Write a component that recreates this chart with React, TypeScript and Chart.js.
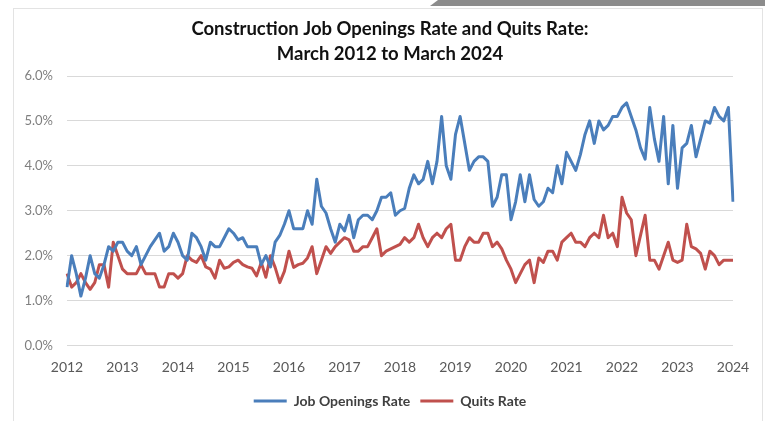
import React, { useEffect, useRef } from "react";
import { Chart, registerables } from "chart.js";

Chart.register(...registerables);

const titleLines = ["Construction Job Openings Rate and Quits Rate:", "March 2012 to March 2024"];
const startYear = 2012;
const startMonth = 3;
const yearTicks = ["2012", "2013", "2014", "2015", "2016", "2017", "2018", "2019", "2020", "2021", "2022", "2023", "2024"];

const jobOpeningsRate = [
  1.3, 2.0, 1.6, 1.1, 1.5, 2.0, 1.6, 1.5, 1.8, 2.2, 2.1, 2.3,
  2.3, 2.1, 2.0, 2.2, 1.8, 2.0, 2.2, 2.35, 2.5, 2.1, 2.2, 2.5,
  2.3, 2.0, 1.9, 2.5, 2.4, 2.2, 1.9, 2.3, 2.2, 2.2, 2.4, 2.6,
  2.5, 2.35, 2.4, 2.2, 2.2, 2.2, 1.8, 2.0, 1.75, 2.3, 2.45, 2.7,
  3.0, 2.6, 2.6, 2.6, 3.0, 2.7, 3.7, 3.1, 2.95, 2.6, 2.3, 2.7,
  2.55, 2.9, 2.4, 2.8, 2.9, 2.9, 2.8, 3.0, 3.3, 3.3, 3.4, 2.9,
  3.0, 3.05, 3.5, 3.8, 3.6, 3.7, 4.1, 3.6, 4.1, 5.1, 4.0, 3.7,
  4.7, 5.1, 4.5, 3.9, 4.1, 4.2, 4.2, 4.1, 3.1, 3.3, 3.8, 3.8,
  2.8, 3.2, 3.8, 3.2, 3.8, 3.25, 3.1, 3.2, 3.5, 3.4, 4.0, 3.6,
  4.3, 4.1, 3.9, 4.25, 4.7, 5.0, 4.5, 5.0, 4.8, 4.9, 5.1, 5.1,
  5.3, 5.4, 5.1, 4.8, 4.4, 4.15, 5.3, 4.6, 4.1, 5.1, 3.6, 4.9,
  3.5, 4.4, 4.5, 4.9, 4.2, 4.6, 5.0, 4.95, 5.3, 5.1, 5.0, 5.3,
  3.2,
];

const quitsRate = [
  1.6, 1.3, 1.4, 1.6, 1.4, 1.25, 1.4, 1.8, 1.8, 1.3, 2.3, 2.0,
  1.7, 1.6, 1.6, 1.6, 1.8, 1.6, 1.6, 1.6, 1.3, 1.3, 1.6, 1.6,
  1.5, 1.6, 2.0, 1.9, 1.85, 2.0, 1.75, 1.7, 1.5, 1.9, 1.72, 1.75,
  1.85, 1.9, 1.8, 1.75, 1.72, 1.55, 1.85, 1.52, 2.0, 1.74, 1.4, 1.65,
  2.1, 1.74, 1.8, 1.83, 1.95, 2.2, 1.6, 1.9, 2.2, 2.05, 2.2, 2.3,
  2.4, 2.35, 2.1, 2.1, 2.2, 2.2, 2.4, 2.6, 2.0, 2.1, 2.15, 2.2,
  2.25, 2.4, 2.3, 2.4, 2.7, 2.4, 2.2, 2.4, 2.5, 2.4, 2.6, 2.7,
  1.9, 1.9, 2.2, 2.4, 2.3, 2.3, 2.5, 2.5, 2.2, 2.3, 2.15, 1.9,
  1.7, 1.4, 1.6, 1.8, 1.9, 1.4, 1.95, 1.85, 2.1, 2.1, 1.9, 2.3,
  2.4, 2.5, 2.3, 2.3, 2.2, 2.4, 2.5, 2.4, 2.9, 2.4, 2.5, 2.2,
  3.3, 2.95, 2.8, 2.0, 2.45, 2.9, 1.9, 1.9, 1.7, 2.0, 2.3, 1.9,
  1.85, 1.9, 2.7, 2.2, 2.15, 2.05, 1.7, 2.1, 2.0, 1.8, 1.9, 1.9,
  1.9,
];

const seriesNames = ["Job Openings Rate", "Quits Rate"];
const seriesColors = ["#4a7ebb", "#c0504d"];

const monthLabels = jobOpeningsRate.map((_, i) => {
  const m = startMonth - 1 + i;
  return `${startYear + Math.floor(m / 12)}-${String((m % 12) + 1).padStart(2, "0")}`;
});

const FONT = "Lato, 'Open Sans', sans-serif";

// Shift title and legend so they are centred on the plot area, as in the reference.
const centerShift = {
  id: "centerShift",
  afterLayout(c: any) {
    const d = 23.5;
    if (c.titleBlock) {
      c.titleBlock.left += d;
      c.titleBlock.right += d;
    }
    if (c.legend) {
      c.legend.left += d;
      c.legend.right += d;
    }
  },
};

export default function App() {
  const ref = useRef<HTMLCanvasElement | null>(null);

  useEffect(() => {
    if (!ref.current) return;
    const chart = new Chart(ref.current, {
      type: "line",
      data: {
        labels: monthLabels,
        datasets: [
          {
            label: seriesNames[0],
            data: jobOpeningsRate,
            borderColor: seriesColors[0],
            backgroundColor: seriesColors[0],
            borderWidth: 3,
            pointRadius: 0,
            tension: 0,
            borderJoinStyle: "round",
          },
          {
            label: seriesNames[1],
            data: quitsRate,
            borderColor: seriesColors[1],
            backgroundColor: seriesColors[1],
            borderWidth: 3,
            pointRadius: 0,
            tension: 0,
            borderJoinStyle: "round",
          },
        ],
      },
      plugins: [centerShift],
      options: {
        animation: false,
        responsive: false,
        maintainAspectRatio: false,
        layout: { padding: { left: 0, right: 32, top: 7, bottom: 3 } },
        plugins: {
          title: {
            display: true,
            text: titleLines,
            color: "#111111",
            font: { family: FONT, size: 18.5, weight: "bold", lineHeight: 25 / 18.5 },
            padding: { top: 10, bottom: 9 },
          },
          legend: {
            display: true,
            position: "bottom",
            labels: {
              color: "#404040",
              font: { family: FONT, size: 14, weight: "bold" },
              boxWidth: 33,
              boxHeight: 3,
              padding: 10,
              generateLabels: (c: any) =>
                Chart.defaults.plugins.legend.labels
                  .generateLabels(c)
                  .map((it: any) => ({ ...it, lineWidth: 0 })),
            },
          },
          tooltip: { enabled: false },
        },
        scales: {
          x: {
            type: "category",
            offset: false,
            grid: { display: false, drawTicks: false },
            border: { display: false },
            ticks: {
              autoSkip: false,
              maxRotation: 0,
              minRotation: 0,
              padding: 14,
              color: "#595959",
              font: { family: FONT, size: 14 },
              callback: (_v: any, idx: number) => (idx % 12 === 0 ? yearTicks[idx / 12] : null),
            },
            afterFit: (s: any) => {
              s.height = 38.5;
            },
          },
          y: {
            min: 0,
            max: 6,
            grid: { color: "#d9d9d9", lineWidth: 1, drawTicks: false },
            border: { display: false },
            ticks: {
              stepSize: 1,
              padding: 14,
              color: "#7f7f7f",
              font: { family: FONT, size: 13 },
              callback: (v: any) => Number(v).toFixed(1) + "%",
            },
            afterFit: (s: any) => {
              s.width = 67;
            },
          },
        },
      },
    });
    return () => chart.destroy();
  }, []);

  return (
    <div style={{ position: "fixed", left: 0, top: 0, width: 765, height: 421, background: "#ffffff", overflow: "hidden" }}>
      <div
        style={{
          position: "absolute",
          left: 13,
          top: 8,
          width: 750,
          height: 430,
          border: "1px solid #e3e3e3",
          boxSizing: "border-box",
        }}
      />
      <div
        style={{
          position: "absolute",
          left: 0,
          top: 0,
          width: 765,
          height: 6,
          background: "#8c8c8c",
          clipPath: "polygon(438px 0, 765px 0, 765px 6px, 430px 6px)",
        }}
      />
      <canvas ref={ref} width={765} height={421} style={{ position: "absolute", left: 0, top: 0 }} />
    </div>
  );
}
